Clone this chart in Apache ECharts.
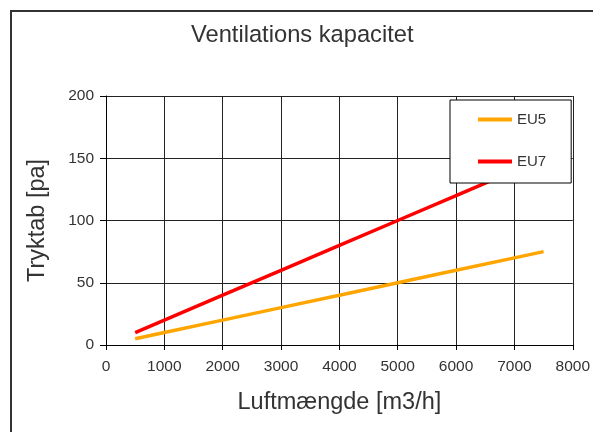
<!DOCTYPE html>
<html>
<head>
<meta charset="utf-8">
<style>
html,body{margin:0;padding:0;background:#fff;}
#chart{width:593px;height:432px;}
</style>
<script src="https://cdn.jsdelivr.net/npm/echarts@6/dist/echarts.min.js"></script>
</head>
<body>
<div id="chart"></div>
<script>
var airflow = [500, 1000, 2000, 3000, 4000, 5000, 6000, 7000, 7500];
var eu5 = [5, 10, 20, 30, 40, 50, 60, 70, 75];
var eu7 = [10, 20, 40, 60, 80, 100, 120, 140, 150];
var seriesNames = ['EU5', 'EU7'];
var titleText = 'Ventilations kapacitet';
var xName = 'Luftmængde [m3/h]';
var yName = 'Tryktab [pa]';

function pairs(xs, ys) { return xs.map(function (x, i) { return [x, ys[i]]; }); }

var FONT = '"Liberation Sans", Arial, sans-serif';
var chart = echarts.init(document.getElementById('chart'), null, {renderer: 'canvas'});
chart.setOption({
  animation: false,
  backgroundColor: '#fff',
  graphic: [{
    type: 'rect', z: 0,
    shape: {x: 11, y: 11, width: 700, height: 500},
    style: {fill: 'none', stroke: '#333', lineWidth: 2}
  }],
  title: {
    text: titleText, left: 191, top: 23, padding: 0,
    textStyle: {fontFamily: FONT, fontSize: 23.7, fontWeight: 'normal', color: '#333'}
  },
  grid: {left: 106, right: 18, top: 96, bottom: 87, containLabel: false},
  legend: {
    orient: 'vertical', left: 450, top: 100,
    padding: [12, 25, 14, 28],
    icon: 'rect',
    itemWidth: 34, itemHeight: 4, itemGap: 27,
    backgroundColor: '#fff', borderColor: '#000', borderWidth: 1, borderRadius: 0,
    textStyle: {fontFamily: FONT, fontSize: 15, color: '#333'},
    data: seriesNames
  },
  xAxis: {
    type: 'value', min: 0, max: 8000, interval: 1000,
    name: xName, nameLocation: 'middle', nameGap: 46,
    nameTextStyle: {fontFamily: FONT, fontSize: 23.5, color: '#333'},
    axisLine: {show: true, lineStyle: {color: '#000', width: 1}},
    axisTick: {show: true, inside: false, length: 5, lineStyle: {color: '#000'}},
    axisLabel: {fontFamily: FONT, fontSize: 15.5, color: '#333', margin: 14,
      formatter: function (v) { return String(v); }},
    splitLine: {show: true, lineStyle: {color: '#222', width: 1}}
  },
  yAxis: {
    type: 'value', min: 0, max: 200, interval: 50,
    name: yName, nameLocation: 'middle', nameGap: 56, nameRotate: 90,
    nameTextStyle: {fontFamily: FONT, fontSize: 23.5, color: '#333'},
    axisLine: {show: true, lineStyle: {color: '#000', width: 1}},
    axisTick: {show: true, inside: false, length: 6, lineStyle: {color: '#000'}},
    axisLabel: {fontFamily: FONT, fontSize: 15.5, color: '#333', margin: 12,
      formatter: function (v) { return String(v); }},
    splitLine: {show: true, lineStyle: {color: '#222', width: 1}}
  },
  series: [
    {name: seriesNames[0], type: 'line', data: pairs(airflow, eu5), symbol: 'none',
     lineStyle: {color: '#FFA500', width: 3.5}, itemStyle: {color: '#FFA500'}},
    {name: seriesNames[1], type: 'line', data: pairs(airflow, eu7), symbol: 'none',
     lineStyle: {color: '#FF0000', width: 3.5}, itemStyle: {color: '#FF0000'}}
  ]
});
</script>
</body>
</html>
